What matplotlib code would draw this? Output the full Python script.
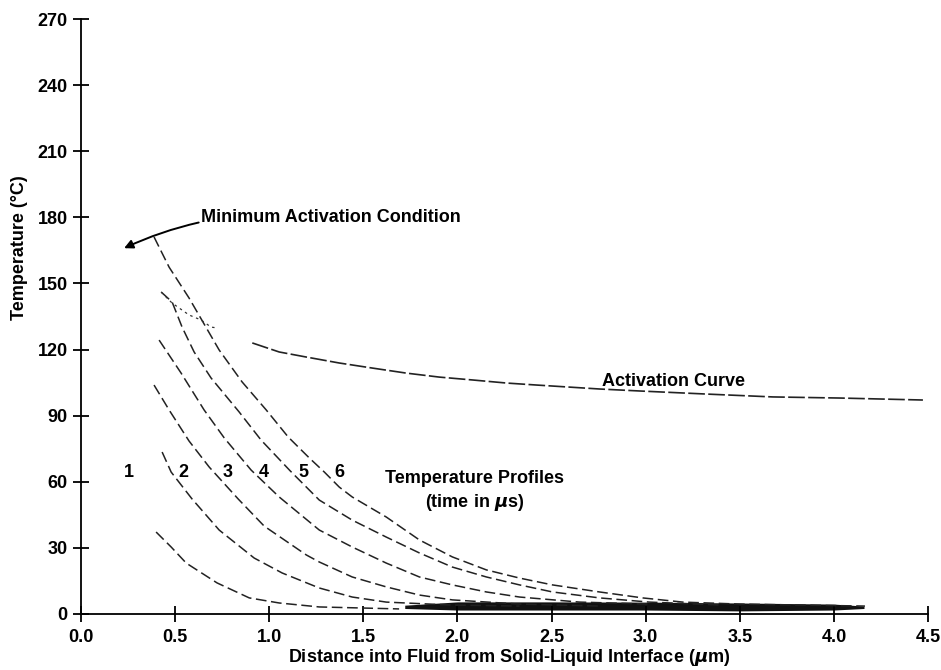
import numpy as np
import matplotlib.pyplot as plt

plt.rcParams['font.family'] = ['Liberation Sans', 'DejaVu Sans']
plt.rcParams['font.weight'] = 'bold'

# temperature profiles (x in um, T in deg C)
x1 = [0.399, 0.479, 0.559, 0.723, 0.894, 1.053, 1.266, 1.69]
t1 = [37.2, 30.4, 23.1, 14.1, 7.3, 5.0, 3.2, 2.3]

x2 = [0.431, 0.479, 0.590, 0.734, 0.920, 1.069, 1.266, 1.441, 1.622, 1.957, 2.33]
t2 = [73.5, 64.4, 52.2, 38.1, 25.4, 18.6, 11.8, 7.7, 5.4, 4.1, 3.6]

x3 = [0.388, 0.468, 0.574, 0.681, 0.835, 0.973, 1.197, 1.266, 1.441, 1.622, 1.798, 1.973, 2.33, 2.755]
t3 = [103.9, 92.6, 78.5, 66.7, 52.2, 39.9, 26.8, 23.6, 16.8, 12.3, 8.6, 6.4, 4.5, 3.6]

x4 = [0.415, 0.532, 0.654, 0.761, 0.904, 1.053, 1.266, 1.441, 1.622, 1.798, 1.973, 2.154, 2.33, 2.649, 3.02]
t4 = [124.3, 109.3, 92.6, 79.9, 65.3, 53.1, 38.1, 30.4, 23.1, 16.8, 13.2, 10.0, 7.7, 5.4, 4.5]

x5 = [0.426, 0.484, 0.537, 0.601, 0.691, 0.840, 0.957, 1.112, 1.266, 1.441, 1.622, 1.798,
      1.973, 2.154, 2.33, 2.505, 2.755, 3.02, 3.39]
t5 = [146.1, 141.6, 130.2, 118.9, 107.1, 91.7, 78.9, 64.9, 51.7, 42.6, 34.9, 27.7,
      21.3, 16.8, 13.2, 10.0, 7.3, 5.4, 4.1]

x6 = [0.388, 0.468, 0.574, 0.734, 0.856, 0.984, 1.101, 1.213, 1.293, 1.372, 1.441, 1.622,
      1.798, 1.973, 2.154, 2.33, 2.505, 2.755, 2.984, 3.197, 3.5, 4.165]
t6 = [171.1, 157.4, 143.4, 119.8, 105.3, 92.6, 80.3, 70.8, 64.4, 57.6, 53.1, 44.0,
      33.6, 25.9, 20.0, 16.3, 13.2, 10.0, 7.3, 5.4, 4.5, 3.6]

profiles = [(x1, t1), (x2, t2), (x3, t3), (x4, t4), (x5, t5), (x6, t6)]

# activation curve (dotted part on the left, then solid)
xa_dot = [0.426, 0.484, 0.574, 0.638, 0.691, 0.723]
ta_dot = [146.1, 141.1, 135.7, 133.4, 130.2, 129.8]
xa = [0.910, 1.053, 1.197, 1.372, 1.548, 1.729, 1.904, 2.080, 2.261, 2.420, 2.755,
      2.968, 3.324, 3.676, 4.032, 4.473]
ta = [123.0, 118.9, 116.6, 113.9, 111.6, 109.3, 107.5, 106.2, 104.8, 103.9, 102.1,
      101.2, 99.8, 98.5, 98.0, 97.1]

# dark band where the profiles pile up near zero
xb = [1.72, 2.0, 2.5, 3.0, 3.5, 4.0, 4.16]
tb_lo = [2.5, 1.8, 1.8, 1.8, 1.4, 1.8, 2.5]
tb_hi = [4.0, 5.5, 5.5, 5.4, 5.0, 4.5, 3.6]

labels = ['1', '2', '3', '4', '5', '6']
label_x = [0.255, 0.543, 0.777, 0.973, 1.18, 1.372]
label_t = 64

fs = 13

fig = plt.figure(figsize=(9.41, 6.70), dpi=100)
ax = fig.add_axes([81 / 941, 56 / 670, 847 / 941, 595 / 670])

for xs, ts in profiles:
    ax.plot(xs, ts, color='#222222', lw=1.1, ls=(0, (7, 3)))

ax.plot(xa_dot, ta_dot, color='#333333', lw=0.9, ls=(0, (2, 3)))
ax.plot(xa, ta, color='#222222', lw=1.2, ls=(0, (10, 2)))
ax.fill_between(xb, tb_lo, tb_hi, color='#111111', lw=0)

for lab, lx in zip(labels, label_x):
    ax.text(lx, label_t, lab, fontsize=fs, fontweight='bold', ha='center', va='center')

ax.text(2.09, 55.5, 'Temperature Profiles\n(time in $\\mu$s)', fontsize=fs,
        fontweight='bold', ha='center', va='center', linespacing=1.3)
ax.text(2.77, 105.5, 'Activation Curve', fontsize=fs, fontweight='bold',
        ha='left', va='center')
ax.annotate('Minimum Activation Condition', xy=(0.229, 166), xytext=(0.64, 179.7),
            fontsize=fs, fontweight='bold', ha='left', va='center',
            arrowprops=dict(arrowstyle='-|>', color='black', lw=1.4,
                            connectionstyle='arc3,rad=0.15', shrinkA=0, shrinkB=0))

ax.set_xlim(0, 4.5)
ax.set_ylim(0, 270)
ax.set_xticks(np.arange(0, 4.51, 0.5))
ax.set_yticks(np.arange(0, 271, 30))
ax.set_xticklabels(['%.1f' % v for v in np.arange(0, 4.51, 0.5)])

for side in ['top', 'right']:
    ax.spines[side].set_visible(False)
for side in ['left', 'bottom']:
    ax.spines[side].set_linewidth(1.3)

ax.tick_params(axis='both', direction='inout', length=11, width=1.3, labelsize=fs)
ax.tick_params(axis='x', pad=5)
ax.tick_params(axis='y', pad=4)
for lab in ax.get_xticklabels() + ax.get_yticklabels():
    lab.set_fontweight('bold')

ax.set_xlabel('Distance into Fluid from Solid-Liquid Interface ($\\mu$m)',
              fontsize=fs, fontweight='bold')
ax.set_ylabel('Temperature (\u00b0C)', fontsize=fs, fontweight='bold')
ax.xaxis.set_label_coords(0.506, -0.056)
ax.yaxis.set_label_coords(-0.062, 0.615)

fig.savefig('out.png', dpi=100)
